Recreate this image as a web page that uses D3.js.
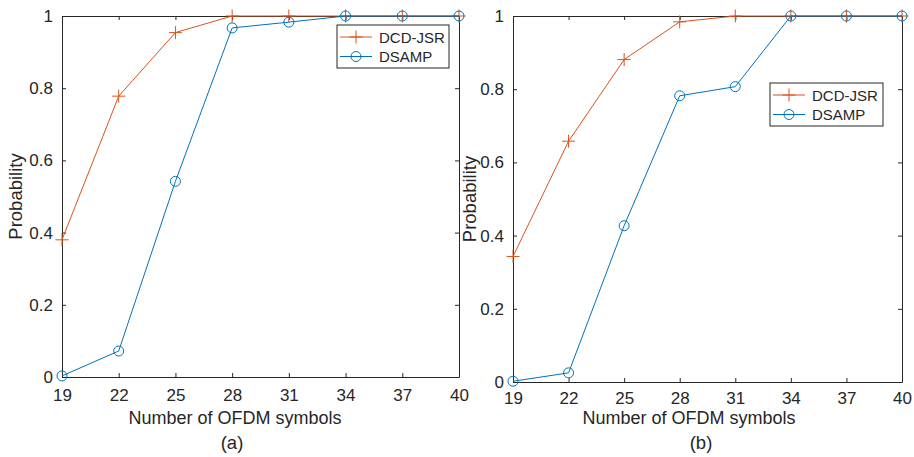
<!DOCTYPE html>
<html>
<head>
<meta charset="utf-8">
<script src="https://cdn.jsdelivr.net/npm/d3@7"></script>
<style>
  body { margin: 0; background: #fff; }
  svg text { font-family: "Liberation Sans", Arial, Helvetica, sans-serif; fill: #262626; }
</style>
</head>
<body>
<div id="chart"></div>
<script>
(function () {

// number of OFDM symbols (x axis)
const symbols = [19, 22, 25, 28, 31, 34, 37, 40];
const yTicks = [0, 0.2, 0.4, 0.6, 0.8, 1];
const seriesNames = ["DCD-JSR", "DSAMP"];

// panel (a)
const dcdA   = [0.380, 0.778, 0.954, 1, 1, 1, 1, 1];
const dsampA = [0.003, 0.072, 0.542, 0.967, 0.983, 1, 1, 1];
// panel (b)
const dcdB   = [0.343, 0.658, 0.881, 0.984, 1, 1, 1, 1];
const dsampB = [0.002, 0.025, 0.427, 0.782, 0.807, 1, 1, 1];

const colors = ["#D95319", "#0072BD"];
const ink = "#262626";

const svg = d3.select("#chart").append("svg")
    .attr("width", 914)
    .attr("height", 457);

// layout of each panel
const panels = [
  {left: 62, right: 459, top: 16, bottom: 377, series: [dcdA, dsampA], caption: "(a)", pad: 12,
   xlabX: 235, capX: 232, ylabX: 22, legend: {x: 337, y: 25, w: 112, h: 43}},
  {left: 513, right: 902, top: 16, bottom: 382, series: [dcdB, dsampB], caption: "(b)", pad: 10,
   xlabX: 689, capX: 701, ylabX: 476, legend: {x: 770, y: 83, w: 113, h: 43}}
];

panels.forEach(function (p) {

  const x = d3.scaleLinear().domain([19, 40]).range([p.left, p.right]);
  const y = d3.scaleLinear().domain([0, 1]).range([p.bottom, p.top]);

  const g = svg.append("g");

  // white plot area
  g.append("rect")
    .attr("x", p.left).attr("y", p.top)
    .attr("width", p.right - p.left).attr("height", p.bottom - p.top)
    .attr("fill", "#fff");

  // axes, ticks pointing inward on all sides
  const styleAxis = sel => {
    sel.selectAll("path.domain").attr("stroke", ink).attr("stroke-width", 1);
    sel.selectAll(".tick line").attr("stroke", ink);
    sel.selectAll(".tick text").attr("font-size", 17).attr("fill", ink)
      .style("font-family", "'Liberation Sans', Arial, sans-serif");
  };

  g.append("g")
    .attr("transform", "translate(0," + p.bottom + ")")
    .call(d3.axisBottom(x).tickValues(symbols).tickSize(-4).tickSizeOuter(0).tickPadding(p.pad))
    .call(styleAxis);
  g.append("g")
    .attr("transform", "translate(0," + p.top + ")")
    .call(d3.axisTop(x).tickValues(symbols).tickSize(-4).tickSizeOuter(0).tickFormat(""))
    .call(styleAxis);
  g.append("g")
    .attr("transform", "translate(" + p.left + ",0)")
    .call(d3.axisLeft(y).tickValues(yTicks).tickSize(-4).tickSizeOuter(0).tickPadding(9)
      .tickFormat(d => String(d)))
    .call(styleAxis);
  g.append("g")
    .attr("transform", "translate(" + p.right + ",0)")
    .call(d3.axisRight(y).tickValues(yTicks).tickSize(-4).tickSizeOuter(0).tickFormat(""))
    .call(styleAxis);

  // lines + markers
  const line = d3.line().x((d, i) => x(symbols[i])).y(d => y(d));

  p.series.forEach(function (vals, k) {
    g.append("path")
      .datum(vals)
      .attr("d", line)
      .attr("fill", "none")
      .attr("stroke", colors[k])
      .attr("stroke-width", 1);
    vals.forEach(function (v, i) {
      drawMarker(g, k, x(symbols[i]), y(v));
    });
  });

  // labels
  g.append("text")
    .attr("x", p.xlabX).attr("y", 424)
    .attr("text-anchor", "middle").attr("font-size", 18)
    .text("Number of OFDM symbols");
  g.append("text")
    .attr("x", p.capX).attr("y", 449)
    .attr("text-anchor", "middle").attr("font-size", 18.5)
    .text(p.caption);
  g.append("text")
    .attr("transform", "translate(" + p.ylabX + "," + ((p.top + p.bottom) / 2) + ") rotate(-90)")
    .attr("text-anchor", "middle").attr("font-size", 18.5)
    .text("Probability");

  // legend
  const L = p.legend;
  const lg = g.append("g").attr("transform", "translate(" + L.x + "," + L.y + ")");
  lg.append("rect")
    .attr("width", L.w).attr("height", L.h)
    .attr("fill", "#fff").attr("stroke", ink).attr("stroke-width", 1);
  seriesNames.forEach(function (name, k) {
    const ry = 12 + k * 19.5;
    lg.append("line")
      .attr("x1", 3).attr("x2", 35).attr("y1", ry).attr("y2", ry)
      .attr("stroke", colors[k]).attr("stroke-width", 1);
    drawMarker(lg, k, 19, ry);
    lg.append("text")
      .attr("x", 42).attr("y", ry + 5.5)
      .attr("font-size", 15)
      .text(name);
  });
});

function drawMarker(sel, k, cx, cy) {
  if (k === 0) {
    sel.append("path")
      .attr("d", "M" + (cx - 6.5) + "," + cy + "h13M" + cx + "," + (cy - 6.5) + "v13")
      .attr("stroke", colors[0]).attr("stroke-width", 1).attr("fill", "none");
  } else {
    sel.append("circle")
      .attr("cx", cx).attr("cy", cy).attr("r", 5)
      .attr("stroke", colors[1]).attr("stroke-width", 1).attr("fill", "none");
  }
}

})()
</script>
</body>
</html>
